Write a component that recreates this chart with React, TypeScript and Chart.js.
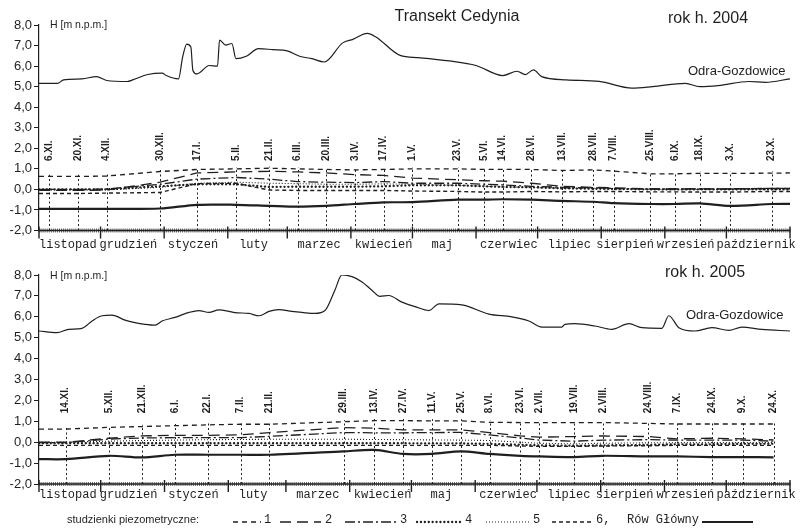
import React, { useEffect, useRef } from 'react';
import { Chart, registerables } from 'chart.js';
Chart.register(...registerables);

const INK = '#1f1f1f';

// ---------- shared ----------
const monthNames = ['listopad', 'grudzień', 'styczeń', 'luty', 'marzec', 'kwiecień', 'maj', 'czerwiec', 'lipiec', 'sierpień', 'wrzesień', 'październik'];
const monthDays2004 = [30, 31, 31, 29, 31, 30, 31, 30, 31, 31, 30, 31];
const monthDays2005 = [30, 31, 31, 28, 31, 30, 31, 30, 31, 31, 30, 31];

// ---------- 2004 ----------
const dateLabels2004 = ['6.XI.', '20.XI.', '4.XII.', '30.XII.', '17.I.', '5.II.', '21.II.', '6.III.', '20.III.', '3.IV.', '17.IV.', '1.V.', '23.V.', '5.VI.', '14.VI.', '28.VI.', '13.VII.', '28.VII.', '7.VIII.', '25.VIII.', '6.IX.', '18.IX.', '3.X.', '23.X.'];
const dateDays2004 = [5, 19, 33, 59, 77, 96, 112, 126, 140, 154, 168, 182, 204, 217, 226, 240, 255, 270, 280, 298, 310, 322, 337, 357];
// series points: day 0, each date, end of year
const pointDays2004 = [0, ...dateDays2004, 366];
const s1_2004 = [0.63, 0.63, 0.63, 0.65, 0.87, 0.97, 1.0, 1.03, 1.0, 0.97, 0.95, 0.97, 1.0, 1.0, 0.97, 0.97, 0.97, 0.92, 0.95, 0.89, 0.76, 0.76, 0.78, 0.78, 0.79, 0.8];
const s2_2004 = [-0.05, -0.05, -0.05, -0.03, 0.35, 0.8, 0.85, 0.88, 0.85, 0.8, 0.72, 0.68, 0.55, 0.47, 0.42, 0.4, 0.3, 0.15, 0.1, 0.08, 0.02, 0.02, 0.03, 0.03, 0.05, 0.05];
const s3_2004 = [0.0, 0.0, 0.0, 0.02, 0.25, 0.5, 0.58, 0.5, 0.38, 0.35, 0.33, 0.38, 0.3, 0.3, 0.25, 0.22, 0.15, 0.1, 0.08, 0.05, 0.02, 0.02, 0.03, 0.02, 0.05, 0.05];
const s4_2004 = [0.0, 0.0, 0.0, 0.0, 0.15, 0.25, 0.25, 0.12, 0.13, 0.13, 0.13, 0.15, 0.2, 0.2, 0.15, 0.12, 0.1, 0.05, 0.03, 0.02, 0.0, 0.0, 0.0, 0.0, 0.0, 0.0];
const s5_2004 = [-0.03, -0.03, -0.03, -0.02, 0.1, 0.3, 0.35, 0.3, 0.28, 0.25, 0.25, 0.27, 0.25, 0.2, 0.15, 0.12, 0.1, 0.05, 0.05, 0.03, 0.0, -0.02, 0.0, 0.0, 0.0, 0.0];
const s6_2004 = [-0.2, -0.2, -0.2, -0.18, -0.15, 0.28, 0.3, -0.03, -0.05, -0.05, -0.05, -0.05, -0.08, -0.1, -0.13, -0.13, -0.1, -0.12, -0.1, -0.1, -0.12, -0.12, -0.13, -0.13, -0.1, -0.1];
const row_2004 = [-0.95, -0.95, -0.95, -0.95, -0.93, -0.75, -0.75, -0.8, -0.84, -0.8, -0.71, -0.63, -0.62, -0.5, -0.5, -0.48, -0.5, -0.56, -0.6, -0.67, -0.71, -0.71, -0.68, -0.8, -0.71, -0.7];
const odraDays2004 = [0, 9, 12, 21, 28, 33, 43, 46, 53, 60, 62, 68, 70, 72, 74, 75, 77, 83, 87, 88, 91, 94, 96, 101, 107, 114, 121, 127, 133, 139, 148, 153, 160, 164, 176, 185, 200, 213, 226, 233, 237, 241, 245, 257, 273, 289, 299, 315, 322, 331, 346, 354, 366];
const odraLevel2004 = [5.16, 5.16, 5.33, 5.38, 5.49, 5.3, 5.25, 5.34, 5.59, 5.66, 5.54, 5.38, 6.44, 7.07, 6.93, 5.79, 5.62, 6.03, 6.0, 7.26, 7.02, 7.1, 6.36, 6.48, 6.85, 6.8, 6.74, 6.48, 6.36, 6.2, 7.13, 7.3, 7.59, 7.43, 6.52, 6.41, 6.25, 6.03, 5.54, 5.75, 5.59, 5.82, 5.49, 5.33, 5.26, 4.93, 5.0, 5.16, 5.0, 5.05, 5.25, 5.21, 5.38];

// ---------- 2005 ----------
const dateLabels2005 = ['14.XI.', '5.XII.', '21.XII.', '6.I.', '22.I.', '7.II.', '21.II.', '29.III.', '13.IV.', '27.IV.', '11.V.', '25.V.', '8.VI.', '23.VI.', '2.VII.', '19.VII.', '2.VIII.', '24.VIII.', '7.IX.', '24.IX.', '9.X.', '24.X.'];
const dateDays2005 = [13, 34, 50, 66, 82, 98, 112, 148, 163, 177, 191, 205, 219, 234, 243, 260, 274, 296, 310, 327, 342, 357];
const pointDays2005 = [0, ...dateDays2005];
const s1_2005 = [0.63, 0.63, 0.71, 0.75, 0.79, 0.83, 0.86, 0.86, 0.98, 1.03, 1.03, 1.02, 1.02, 0.95, 0.94, 0.94, 0.94, 0.94, 0.9, 0.87, 0.87, 0.87, 0.87];
const s2_2005 = [0.0, 0.0, 0.19, 0.3, 0.33, 0.33, 0.35, 0.46, 0.7, 0.67, 0.59, 0.59, 0.59, 0.46, 0.3, 0.24, 0.27, 0.3, 0.27, 0.16, 0.19, 0.16, 0.11];
const s3_2005 = [-0.02, -0.02, 0.15, 0.2, 0.22, 0.22, 0.22, 0.28, 0.46, 0.45, 0.45, 0.46, 0.47, 0.35, 0.2, 0.1, 0.05, 0.1, 0.12, 0.1, 0.1, 0.1, 0.05];
const s4_2005 = [-0.05, -0.05, -0.05, -0.05, -0.05, -0.05, -0.05, -0.05, -0.05, -0.05, -0.05, -0.06, -0.06, -0.08, -0.12, -0.15, -0.17, -0.15, -0.13, -0.1, -0.1, -0.08, -0.08];
const s5_2005 = [0.0, 0.0, 0.05, 0.08, 0.1, 0.12, 0.13, 0.14, 0.14, 0.13, 0.12, 0.11, 0.1, 0.08, 0.0, -0.05, -0.08, -0.05, -0.03, -0.02, -0.02, -0.02, -0.02];
const s6_2005 = [-0.15, -0.15, -0.15, -0.15, -0.15, -0.15, -0.15, -0.15, -0.15, -0.15, -0.15, -0.15, -0.15, -0.15, -0.18, -0.2, -0.2, -0.18, -0.17, -0.15, -0.15, -0.15, -0.15];
const row_2005 = [-0.81, -0.81, -0.65, -0.73, -0.6, -0.6, -0.6, -0.6, -0.44, -0.37, -0.56, -0.56, -0.44, -0.56, -0.65, -0.68, -0.71, -0.65, -0.68, -0.68, -0.71, -0.71, -0.73];
const odraDays2005 = [0, 8.7, 14.4, 20.9, 25.8, 30.6, 35.5, 41.8, 46.6, 51.5, 56.4, 59.8, 66.1, 72.9, 77.7, 82.6, 87.5, 92.3, 95.2, 102, 107, 111.8, 116.6, 122.9, 127.8, 134.1, 139, 143.8, 147.2, 152.1, 157, 161.8, 165.7, 170, 176.4, 182.7, 189.5, 194.4, 205.5, 218.7, 229.8, 238.1, 244.4, 254.1, 255.6, 260.4, 270.2, 278.4, 286.7, 293, 302.7, 306.1, 311, 318.8, 327, 335.3, 341.6, 351.3, 365];
const odraLevel2005 = [5.32, 5.24, 5.4, 5.45, 5.8, 6.05, 6.08, 5.84, 5.72, 5.64, 5.6, 5.8, 5.97, 6.21, 6.3, 6.21, 6.33, 6.26, 6.2, 6.16, 6.05, 6.26, 6.34, 6.26, 6.21, 6.16, 6.3, 7.27, 8.0, 7.92, 7.67, 7.27, 6.98, 7.02, 6.7, 6.49, 6.3, 6.62, 6.57, 6.13, 6.0, 5.8, 5.51, 5.51, 5.64, 5.67, 5.56, 5.4, 5.67, 5.48, 5.45, 6.05, 5.48, 5.32, 5.48, 5.35, 5.51, 5.4, 5.32];

// ---------- styles / layout ----------
const seriesStyles = [
  { dash: [5, 4], width: 1.3, cap: 'butt' },
  { dash: [11, 6], width: 1.3, cap: 'butt' },
  { dash: [10, 3, 2, 3], width: 1.3, cap: 'butt' },
  { dash: [0.1, 3.8], width: 2.3, cap: 'round' },
  { dash: [1, 2], width: 1.1, cap: 'butt' },
  { dash: [4, 3], width: 1.4, cap: 'butt' },
];
// horizontal nudges (px) of month names, as placed in the original drawing
const monthLabelShift = [-2, -4, -3, -4, 0, 2, -2, 2, 0, -8, -10, -2];

const pts = (xs: number[], ys: number[]) => xs.map((x, i) => ({ x, y: ys[i] }));

function buildDatasets(pDays: number[], series: number[][], row: number[], oDays: number[], oLevel: number[]) {
  const ds: any[] = [];
  ds.push({ data: pts(oDays, oLevel), borderColor: INK, borderWidth: 1.2, cubicInterpolationMode: 'monotone', tension: 0.3 });
  series.forEach((s, i) => {
    const st = seriesStyles[i];
    ds.push({ data: pts(pDays, s), borderColor: INK, borderWidth: st.width, borderDash: st.dash, borderCapStyle: st.cap });
  });
  ds.push({ data: pts(pDays, row), borderColor: INK, borderWidth: 2.2, tension: 0.3 });
  return ds;
}

const fmt = (v: number) => Number(v).toFixed(1).replace('.', ',');

function makePlugin(cfg: any) {
  return {
    id: 'panelDeco',
    beforeDatasetsDraw(chart: any) {
      const { ctx, scales } = chart;
      const x = scales.x, y = scales.y;
      const yb = y.getPixelForValue(-2);
      ctx.save();
      // vertical dotted lines at measurement dates
      ctx.strokeStyle = INK;
      ctx.lineWidth = 1;
      ctx.setLineDash([2, 2.5]);
      cfg.dateDays.forEach((d: number, i: number) => {
        const px = Math.round(x.getPixelForValue(d)) + 0.5;
        const top = y.getPixelForValue(cfg.topSeries[i + 1] + 0.08);
        ctx.beginPath();
        ctx.moveTo(px, yb);
        ctx.lineTo(px, top);
        ctx.stroke();
      });
      ctx.setLineDash([]);
      // rotated date labels
      ctx.fillStyle = INK;
      ctx.font = 'bold 10px "Liberation Sans Narrow", "Liberation Sans", sans-serif';
      ctx.textAlign = 'left';
      ctx.textBaseline = 'middle';
      const ly = y.getPixelForValue(1.38);
      cfg.dateDays.forEach((d: number, i: number) => {
        const px = x.getPixelForValue(d);
        ctx.save();
        ctx.translate(px, ly);
        ctx.rotate(-Math.PI / 2);
        ctx.fillText(cfg.dateLabels[i], 0, 0);
        ctx.restore();
      });
      // ruler axis
      const total = cfg.monthDays.reduce((a: number, b: number) => a + b, 0);
      const xl = x.getPixelForValue(0), xr = x.getPixelForValue(total);
      ctx.strokeStyle = INK;
      ctx.lineWidth = 1.6;
      ctx.beginPath();
      ctx.moveTo(xl, yb);
      ctx.lineTo(xr, yb);
      ctx.stroke();
      ctx.lineWidth = 0.7;
      for (let d = 0; d <= total; d++) {
        const px = x.getPixelForValue(d);
        ctx.beginPath();
        ctx.moveTo(px, yb - 2);
        ctx.lineTo(px, yb + 2);
        ctx.stroke();
      }
      ctx.lineWidth = 1.4;
      let acc = 0;
      const bounds = [0];
      cfg.monthDays.forEach((m: number) => { acc += m; bounds.push(acc); });
      bounds.forEach((b: number) => {
        const px = x.getPixelForValue(b);
        ctx.beginPath();
        ctx.moveTo(px, yb - 4);
        ctx.lineTo(px, yb + 8);
        ctx.stroke();
      });
      // month labels
      ctx.font = '12px "Liberation Mono", "DejaVu Sans Mono", monospace';
      ctx.textAlign = 'center';
      ctx.textBaseline = 'middle';
      monthNames.forEach((m, i) => {
        const c = x.getPixelForValue((bounds[i] + bounds[i + 1]) / 2) + monthLabelShift[i];
        ctx.fillText(m, c, yb + cfg.monthOffset);
      });
      ctx.restore();
    },
    afterDraw(chart: any) {
      const { ctx } = chart;
      ctx.save();
      ctx.fillStyle = INK;
      ctx.textBaseline = 'middle';
      ctx.textAlign = 'left';
      cfg.texts.forEach((t: any) => {
        ctx.font = t.font;
        ctx.textAlign = t.align || 'left';
        ctx.fillText(t.text, t.x, t.y);
      });
      if (cfg.legend) {
        const ly = cfg.legend.y;
        ctx.font = '11px "Liberation Sans", Arial, sans-serif';
        ctx.textAlign = 'left';
        ctx.fillText('studzienki piezometryczne:', 67, ly);
        ctx.strokeStyle = INK;
        cfg.legend.items.forEach((it: any) => {
          const st = seriesStyles[it.style];
          ctx.lineWidth = st.width;
          ctx.lineCap = st.cap;
          ctx.setLineDash(st.dash);
          ctx.beginPath();
          ctx.moveTo(it.x0, ly + 2);
          ctx.lineTo(it.x1, ly + 2);
          ctx.stroke();
          ctx.setLineDash([]);
          ctx.lineCap = 'butt';
          ctx.font = '12px "Liberation Mono", monospace';
          ctx.fillText(it.label, it.tx, ly);
        });
        ctx.font = '12px "Liberation Mono", monospace';
        ctx.fillText('Rów Główny', 627, ly);
        ctx.lineWidth = 2.2;
        ctx.beginPath();
        ctx.moveTo(702, ly + 2);
        ctx.lineTo(753, ly + 2);
        ctx.stroke();
      }
      ctx.restore();
    },
  };
}

function makeConfig(cfg: any) {
  const total = cfg.monthDays.reduce((a: number, b: number) => a + b, 0);
  return {
    type: 'line',
    data: { datasets: cfg.datasets },
    options: {
      animation: false,
      responsive: false,
      devicePixelRatio: 1,
      layout: { padding: { left: 0, right: 10, top: cfg.padTop, bottom: cfg.padBottom } },
      plugins: { legend: { display: false }, tooltip: { enabled: false } },
      elements: { point: { radius: 0 }, line: { tension: 0 } },
      scales: {
        x: { type: 'linear', min: 0, max: total, display: false },
        y: {
          min: -2,
          max: 8,
          afterFit: (s: any) => { s.width = 39; },
          ticks: { stepSize: 1, callback: (v: any) => fmt(v), color: INK, padding: 2, font: { family: '"Liberation Sans", Arial, sans-serif', size: 13 } },
          grid: { drawOnChartArea: false, drawTicks: true, tickLength: 5, color: INK, lineWidth: 1 },
          border: { display: true, color: INK, width: 1.2 },
        },
      },
    },
    plugins: [makePlugin(cfg)],
  };
}

const H1 = 258;
const H2 = 274;

export default function App() {
  const c1 = useRef<HTMLCanvasElement>(null);
  const c2 = useRef<HTMLCanvasElement>(null);
  useEffect(() => {
    const sansT = '16px "Liberation Sans", Arial, sans-serif';
    const cfg1 = {
      monthDays: monthDays2004,
      dateDays: dateDays2004,
      dateLabels: dateLabels2004,
      topSeries: s1_2004,
      monthOffset: 14,
      padTop: 25,
      padBottom: H1 - 230.5,
      datasets: buildDatasets(pointDays2004, [s1_2004, s2_2004, s3_2004, s4_2004, s5_2004, s6_2004], row_2004, odraDays2004, odraLevel2004),
      texts: [
        { text: 'Transekt Cedynia', x: 457, y: 17, font: sansT, align: 'center' },
        { text: 'rok h. 2004', x: 668, y: 19, font: sansT },
        { text: 'Odra-Gozdowice', x: 688, y: 71, font: '13px "Liberation Sans", Arial, sans-serif' },
        { text: 'H [m n.p.m.]', x: 50, y: 25, font: '10.5px "Liberation Sans", Arial, sans-serif' },
      ],
    };
    const cfg2 = {
      monthDays: monthDays2005,
      dateDays: dateDays2005,
      dateLabels: dateLabels2005,
      topSeries: s1_2005,
      monthOffset: 11,
      padTop: 275 - H1,
      padBottom: H2 - (484 - H1),
      datasets: buildDatasets(pointDays2005, [s1_2005, s2_2005, s3_2005, s4_2005, s5_2005, s6_2005], row_2005, odraDays2005, odraLevel2005),
      texts: [
        { text: 'rok h. 2005', x: 665, y: 273 - H1, font: sansT },
        { text: 'Odra-Gozdowice', x: 686, y: 315 - H1, font: '13px "Liberation Sans", Arial, sans-serif' },
        { text: 'H [m n.p.m.]', x: 50, y: 276 - H1, font: '10.5px "Liberation Sans", Arial, sans-serif' },
      ],
      legend: {
        y: 520 - H1,
        items: [
          { x0: 233, x1: 261, tx: 264, label: '1', style: 0 },
          { x0: 280, x1: 321, tx: 325, label: '2', style: 1 },
          { x0: 345, x1: 397, tx: 400, label: '3', style: 2 },
          { x0: 417, x1: 462, tx: 465, label: '4', style: 3 },
          { x0: 486, x1: 531, tx: 533, label: '5', style: 4 },
          { x0: 552, x1: 594, tx: 596, label: '6,', style: 5 },
        ],
      },
    };
    const ch1 = new Chart(c1.current as any, makeConfig(cfg1) as any);
    const ch2 = new Chart(c2.current as any, makeConfig(cfg2) as any);
    return () => { ch1.destroy(); ch2.destroy(); };
  }, []);
  return (
    <div style={{ position: 'absolute', left: 0, top: 0, width: 800, height: 532, background: '#fff' }}>
      <canvas ref={c1} width={800} height={H1} style={{ position: 'absolute', left: 0, top: 0, width: 800, height: H1 }} />
      <canvas ref={c2} width={800} height={H2} style={{ position: 'absolute', left: 0, top: H1, width: 800, height: H2 }} />
    </div>
  );
}
